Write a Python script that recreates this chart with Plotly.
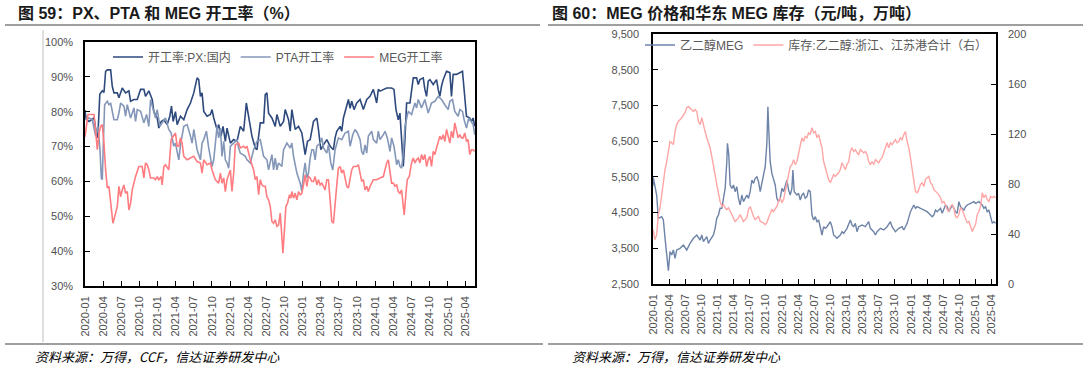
import pandas as pd
import plotly.graph_objects as go

W, H = 1088, 369

# ---------------- data (time in months after 2020-01-01) ----------------
px_points = [(0.0,80.5),(0.17,78.0),(0.66,77.2),(1.49,78.2),(1.9,73.4),(2.04,72.5),(2.2,75.5),(2.45,85.0),(2.86,86.0),(3.14,85.5),(3.41,91.6),(3.69,92.0),(4.24,92.0),(4.51,87.3),(4.79,85.4),(5.34,85.4),(5.61,84.0),(6.16,86.8),(6.71,85.4),(7.26,86.0),(7.54,83.0),(8.09,83.5),(8.64,83.5),(9.19,86.4),(9.74,86.4),(10.01,84.4),(10.56,86.0),(11.11,83.5),(11.39,80.0),(11.94,78.2),(12.21,75.3),(12.6,77.2),(13.04,77.7),(13.59,76.3),(14.03,78.7),(14.3,81.6),(14.58,77.2),(14.96,80.0),(15.24,76.3),(15.79,78.7),(16.34,77.7),(16.89,80.6),(17.44,82.5),(17.99,85.4),(18.54,89.7),(18.81,89.2),(19.09,84.4),(19.36,85.4),(19.64,80.1),(20.19,78.7),(20.74,79.2),(21.01,80.6),(21.29,78.2),(21.84,74.9),(22.11,76.3),(22.5,73.0),(22.83,75.8),(23.21,71.5),(23.49,75.3),(24.04,71.0),(24.59,72.0),(25.14,71.5),(25.69,75.8),(26.24,74.4),(26.68,82.5),(27.06,78.2),(27.61,73.0),(28.16,69.6),(28.44,69.1),(28.99,76.8),(29.54,76.8),(29.81,84.9),(30.09,85.4),(30.36,79.6),(30.91,78.2),(31.46,75.8),(31.74,79.2),(32.29,75.8),(32.84,77.2),(33.11,80.6),(33.66,77.7),(33.94,74.4),(34.21,80.6),(34.76,74.9),(35.31,75.8),(35.86,73.9),(36.41,67.7),(36.8,71.5),(37.24,72.0),(37.79,77.2),(38.34,78.2),(38.61,74.9),(39.0,69.1),(39.44,70.5),(39.99,72.0),(40.54,70.1),(41.09,69.1),(41.36,72.5),(41.64,74.4),(42.19,75.8),(42.46,74.4),(42.74,78.2),(43.29,82.0),(43.56,83.5),(43.84,81.0),(44.11,83.0),(44.5,80.6),(44.94,82.5),(45.49,83.5),(46.04,80.6),(46.59,83.5),(47.14,84.4),(47.41,85.4),(47.69,86.4),(48.24,82.5),(48.51,86.4),(48.79,85.9),(49.34,86.4),(49.89,86.8),(50.71,86.8),(51.1,86.4),(51.43,80.6),(51.81,77.7),(52.09,79.6),(52.36,70.1),(52.64,64.3),(52.91,72.0),(53.19,82.5),(53.74,82.5),(54.29,89.7),(54.84,89.7),(55.11,87.8),(55.39,89.2),(55.94,89.7),(56.21,86.4),(56.49,84.4),(56.76,88.8),(57.04,89.2),(57.59,87.8),(58.14,89.2),(58.41,86.4),(58.69,84.4),(58.96,87.3),(59.24,89.2),(59.79,91.6),(60.34,91.2),(60.61,84.4),(60.89,90.7),(61.44,90.7),(61.99,91.2),(62.43,91.6),(62.65,87.3),(63.09,78.7),(63.64,78.2),(63.91,77.2),(64.19,78.2),(64.46,75.8)]

pta_points = [(0.0,77.7),(0.66,78.2),(1.21,77.7),(1.76,73.0),(2.15,75.8),(2.48,69.1),(2.7,61.0),(2.86,60.5),(3.03,71.0),(3.25,82.0),(3.69,83.0),(3.96,82.0),(4.24,82.5),(4.51,80.1),(4.79,77.7),(5.34,77.7),(5.61,79.6),(5.89,82.5),(6.44,81.6),(6.71,78.7),(6.99,82.0),(7.54,78.2),(8.09,81.1),(8.36,77.2),(8.64,80.6),(9.19,80.1),(9.74,76.8),(10.18,79.2),(10.56,75.8),(10.84,83.5),(11.39,79.6),(11.66,78.2),(11.94,80.6),(12.38,75.8),(12.76,76.8),(13.31,78.2),(13.86,74.9),(14.25,73.9),(14.69,70.1),(14.96,71.0),(15.51,66.2),(15.79,70.5),(16.34,75.8),(16.89,76.3),(17.44,73.0),(17.71,71.0),(17.99,74.9),(18.54,69.1),(19.09,66.2),(19.36,71.0),(19.64,72.0),(20.08,74.4),(20.46,69.6),(21.01,64.3),(21.29,66.2),(21.84,75.8),(22.11,72.5),(22.39,75.3),(22.66,67.2),(22.94,71.5),(23.21,66.2),(23.49,65.3),(23.76,63.8),(24.04,70.1),(24.59,71.0),(25.14,72.0),(25.41,69.6),(25.69,68.1),(26.13,67.7),(26.51,67.2),(26.79,66.2),(27.34,65.3),(27.89,69.1),(28.44,71.5),(28.99,72.0),(29.54,67.2),(30.09,66.2),(30.36,63.3),(30.91,67.7),(31.19,63.3),(31.46,66.7),(31.74,63.3),(32.01,65.3),(32.56,64.3),(32.84,69.1),(33.39,71.0),(33.94,69.6),(34.21,71.0),(34.49,67.2),(35.04,62.4),(35.59,59.5),(35.86,57.1),(36.14,62.4),(36.41,65.3),(36.69,61.0),(36.96,62.4),(37.24,66.7),(37.51,69.1),(37.79,69.1),(38.06,66.2),(38.34,70.1),(38.89,71.0),(39.16,72.5),(39.44,69.6),(39.99,68.1),(40.26,70.5),(40.65,65.3),(40.98,63.3),(41.36,69.1),(41.64,71.0),(41.91,72.5),(42.46,72.0),(43.01,73.9),(43.56,74.4),(43.84,70.1),(44.28,73.4),(44.66,74.9),(45.05,73.9),(45.49,72.0),(45.76,68.6),(46.04,67.7),(46.31,70.5),(46.59,68.1),(46.86,73.0),(47.41,74.4),(47.69,72.0),(48.24,71.0),(48.51,74.4),(48.79,72.0),(49.34,73.4),(49.61,74.4),(50.0,72.5),(50.44,68.6),(50.71,72.5),(51.1,70.1),(51.54,64.8),(51.81,66.2),(52.09,64.3),(52.36,63.8),(52.64,68.1),(52.91,75.8),(53.46,80.1),(54.01,79.2),(54.56,82.5),(54.84,81.1),(55.11,83.5),(55.66,81.1),(56.21,83.5),(56.76,79.6),(57.31,82.5),(57.86,83.0),(58.41,84.4),(58.96,83.5),(59.51,82.0),(60.06,80.6),(60.34,83.0),(60.78,83.5),(61.16,80.1),(61.71,78.7),(61.99,80.6),(62.43,80.1),(62.7,77.7),(63.09,75.3),(63.47,78.2),(63.91,77.2),(64.19,76.3),(64.46,73.4)]

meg_points = [(0.0,72.8),(0.5,79.2),(1.49,79.2),(1.76,73.4),(2.04,69.1),(2.31,73.9),(2.59,75.8),(2.86,76.3),(3.14,71.0),(3.41,63.3),(3.69,58.1),(3.96,58.6),(4.24,53.8),(4.62,48.0),(5.06,50.9),(5.34,52.8),(5.61,58.6),(5.89,55.6),(6.16,57.6),(6.44,59.0),(6.71,56.6),(6.99,57.1),(7.26,51.8),(7.54,53.8),(7.81,57.6),(8.36,61.4),(8.91,64.3),(9.46,64.3),(9.74,61.0),(10.01,65.3),(10.29,64.8),(10.56,63.3),(10.84,61.0),(11.39,61.0),(11.66,60.5),(11.94,61.4),(12.21,60.5),(12.6,61.4),(12.76,59.0),(13.04,64.3),(13.31,64.8),(13.86,63.3),(14.25,72.0),(14.69,73.4),(14.96,73.9),(15.24,70.1),(15.51,70.1),(15.79,72.5),(16.06,71.0),(16.34,67.2),(16.89,66.2),(17.44,66.7),(17.99,67.2),(18.54,65.7),(19.09,65.3),(19.36,62.4),(19.64,66.2),(20.19,64.8),(20.74,65.3),(21.01,63.3),(21.56,60.5),(22.11,59.5),(22.39,62.4),(22.66,59.5),(22.94,61.0),(23.21,57.1),(23.49,60.5),(23.76,61.9),(24.04,63.3),(24.31,57.1),(24.59,62.4),(24.86,70.5),(25.41,71.0),(25.69,69.6),(26.24,70.1),(26.51,69.6),(26.79,70.1),(27.34,66.2),(27.89,63.3),(28.16,60.5),(28.44,61.4),(28.71,56.2),(28.99,60.5),(29.26,59.0),(29.54,58.6),(29.81,58.6),(30.09,55.6),(30.36,54.7),(30.64,52.8),(30.91,48.5),(31.19,48.0),(31.46,49.0),(31.74,47.1),(32.01,47.5),(32.29,50.9),(32.56,44.2),(32.73,39.4),(32.95,45.1),(33.22,52.8),(33.5,53.8),(33.83,56.2),(34.05,55.2),(34.21,57.1),(34.49,55.2),(34.76,56.6),(35.04,54.7),(35.31,57.1),(35.59,56.2),(35.86,56.6),(36.14,59.0),(36.41,61.9),(36.69,58.6),(36.96,61.4),(37.24,61.0),(37.51,60.0),(37.79,60.0),(38.06,61.4),(38.34,59.0),(38.61,60.5),(38.89,59.0),(39.16,59.5),(39.44,58.6),(39.71,57.6),(39.99,60.5),(40.26,60.5),(40.54,54.7),(40.81,48.5),(41.09,48.0),(41.36,54.7),(41.64,59.0),(41.91,63.8),(42.19,64.3),(42.46,62.4),(42.74,63.3),(43.01,61.0),(43.29,58.6),(43.56,58.1),(43.84,61.0),(44.11,63.3),(44.39,64.3),(44.94,64.3),(45.21,64.8),(45.49,62.4),(45.76,60.0),(46.04,60.5),(46.31,57.6),(46.59,58.6),(46.86,57.1),(47.14,58.6),(47.69,60.5),(47.96,60.5),(48.24,60.5),(48.79,61.0),(49.34,61.4),(49.61,63.3),(49.89,65.3),(50.16,66.2),(50.44,62.4),(50.71,59.5),(50.99,59.5),(51.26,58.6),(51.54,59.0),(51.81,57.1),(52.09,56.6),(52.36,57.6),(52.64,52.8),(52.8,50.4),(53.08,56.6),(53.3,60.5),(53.63,61.4),(54.01,65.3),(54.29,66.7),(54.56,65.3),(54.84,66.2),(55.11,66.7),(55.39,65.3),(55.66,67.7),(55.94,66.2),(56.21,67.7),(56.49,64.3),(56.76,66.2),(57.04,67.2),(57.31,64.3),(57.59,68.6),(57.86,67.7),(58.14,69.6),(58.41,71.0),(58.69,73.0),(58.96,72.0),(59.24,73.4),(59.51,71.5),(59.79,74.9),(60.06,73.0),(60.34,71.0),(60.61,74.4),(60.89,72.5),(61.16,76.8),(61.44,74.9),(61.71,72.5),(61.99,73.4),(62.26,72.5),(62.54,72.5),(62.81,73.9),(63.09,71.5),(63.36,72.0),(63.64,67.7),(63.91,69.1),(64.19,69.1),(64.46,68.6)]

price_points = [(0.0,5250),(0.06,5477),(0.68,4992),(0.99,4339),(1.61,4385),(1.93,4292),(2.24,3779),(2.55,3406),(2.86,2873),(3.17,3406),(3.48,3312),(3.79,3452),(4.1,3219),(4.41,3452),(5.03,3499),(5.65,3592),(5.96,3499),(6.27,3452),(6.89,3639),(7.52,3779),(8.14,3872),(8.76,3732),(9.07,3872),(9.38,3686),(10.0,3826),(10.31,3639),(10.62,3732),(11.24,3872),(11.55,4059),(11.86,4339),(12.17,4432),(12.48,4619),(12.8,4619),(13.11,4945),(13.42,5179),(13.73,5925),(13.85,6439),(14.1,6112),(14.35,5272),(14.66,5179),(14.97,5272),(15.28,5085),(15.59,5225),(15.9,4899),(16.21,4712),(16.52,4992),(16.83,4805),(17.45,4992),(17.76,4899),(18.07,5085),(18.39,5412),(18.7,5319),(19.01,5459),(19.32,5505),(19.63,5365),(19.94,5085),(20.25,5319),(20.56,5552),(20.87,5785),(21.18,6439),(21.37,7465),(21.55,6765),(21.8,5925),(22.11,5599),(22.42,5459),(22.73,5272),(23.04,4899),(23.35,4805),(23.66,4899),(23.98,5179),(24.29,5085),(24.6,5272),(24.91,5412),(25.22,5132),(25.53,4992),(25.84,5179),(26.02,5692),(26.27,5085),(26.77,4992),(27.08,5039),(27.39,4852),(27.7,4992),(28.01,5039),(28.32,4899),(28.63,4945),(28.94,5132),(29.25,5085),(29.57,4432),(29.88,4292),(30.19,4385),(30.5,4245),(30.81,4292),(31.12,4105),(31.43,3872),(31.74,4105),(32.05,4059),(32.36,4105),(32.98,4245),(33.29,4105),(33.6,3872),(34.22,3779),(34.84,3872),(35.16,3965),(35.47,3919),(36.09,4059),(36.71,4292),(37.02,4152),(37.33,4105),(37.64,4199),(37.95,3965),(38.26,4105),(38.88,4152),(39.5,4105),(40.12,4245),(40.43,4059),(41.06,3965),(41.37,3872),(41.68,3965),(42.3,4059),(42.92,4012),(43.54,4105),(44.16,4245),(44.47,4105),(45.09,3965),(45.71,4059),(46.34,4105),(46.65,4012),(47.27,4199),(47.89,4525),(48.51,4712),(48.82,4619),(49.13,4665),(49.75,4619),(50.37,4572),(50.99,4525),(51.61,4432),(51.93,4385),(52.24,4432),(52.55,4572),(52.86,4525),(53.17,4572),(53.48,4619),(53.79,4479),(54.1,4619),(54.41,4712),(54.72,4665),(55.03,4525),(55.34,4619),(55.65,4712),(55.96,4619),(56.27,4525),(56.58,4479),(56.89,4805),(57.2,4665),(57.52,4619),(57.83,4572),(58.14,4665),(58.45,4712),(59.07,4759),(59.69,4805),(60.0,4759),(60.62,4805),(61.24,4712),(61.55,4619),(61.86,4665),(62.17,4525),(62.48,4572),(62.8,4339),(63.11,4199),(63.42,4245),(63.73,4199)]

stock_points = [(0.0,43.5),(0.37,35.5),(0.68,39.5),(0.99,55.5),(1.3,60.8),(1.61,71.5),(1.93,82.0),(2.24,91.5),(2.55,98.0),(2.86,107.5),(3.17,114.0),(3.48,113.0),(3.79,111.5),(4.1,122.0),(4.41,127.5),(4.72,130.0),(5.34,133.0),(5.96,137.0),(6.27,141.0),(6.58,142.0),(7.2,139.5),(7.52,138.0),(7.83,139.5),(8.14,138.0),(8.45,130.0),(8.76,127.5),(9.07,133.0),(9.38,126.0),(9.69,122.0),(10.0,117.0),(10.31,113.0),(10.62,109.0),(10.93,102.0),(11.24,95.5),(11.55,87.5),(11.86,79.5),(12.17,71.5),(12.48,66.0),(12.8,62.0),(13.11,63.5),(13.42,61.0),(13.73,59.5),(14.04,61.0),(14.35,58.0),(14.66,55.5),(14.97,53.0),(15.28,50.0),(15.59,51.5),(15.9,53.0),(16.21,55.5),(16.52,53.0),(16.83,50.0),(17.45,53.0),(17.76,59.5),(18.07,62.0),(18.39,57.0),(18.7,54.0),(19.01,51.5),(19.32,53.0),(19.63,54.0),(19.94,50.0),(20.56,49.0),(20.87,47.5),(21.18,49.0),(21.49,53.0),(21.8,57.0),(22.11,59.5),(22.42,58.0),(23.04,62.0),(23.35,66.0),(23.66,69.0),(23.98,65.0),(24.29,67.5),(24.6,74.0),(24.91,79.5),(25.22,87.5),(25.53,94.0),(25.84,95.5),(26.15,99.5),(26.46,95.5),(26.77,98.0),(27.08,105.0),(27.39,111.5),(27.7,117.0),(28.01,114.0),(28.32,118.0),(28.63,117.0),(28.94,121.0),(29.25,119.5),(29.57,125.0),(29.88,121.0),(30.19,122.0),(30.5,117.0),(30.81,119.5),(31.12,114.0),(31.43,109.0),(31.74,98.0),(32.05,93.0),(32.36,87.5),(32.67,83.5),(32.98,81.0),(33.29,85.0),(33.6,87.5),(33.91,86.0),(34.22,87.5),(34.53,89.0),(34.84,91.5),(35.16,97.0),(35.47,94.0),(35.78,91.5),(36.09,95.5),(36.4,98.0),(36.71,106.0),(37.02,109.0),(37.33,106.0),(37.64,107.5),(37.95,105.0),(38.26,103.5),(38.57,107.5),(39.19,105.0),(39.5,106.0),(39.81,103.5),(40.12,98.0),(40.43,95.5),(40.75,98.0),(41.06,95.5),(41.37,99.5),(41.68,98.0),(41.99,97.0),(42.3,99.5),(42.61,101.0),(42.92,105.0),(43.23,110.0),(43.54,113.0),(43.85,109.0),(44.16,113.0),(44.47,111.5),(44.78,114.0),(45.09,115.5),(45.4,113.0),(45.71,114.0),(46.02,117.0),(46.34,115.5),(46.65,119.5),(46.96,122.0),(47.27,114.0),(47.58,109.0),(47.89,101.0),(48.2,93.0),(48.51,82.0),(48.82,74.0),(49.13,73.0),(49.44,75.5),(49.75,79.5),(50.06,81.0),(50.37,78.0),(50.68,83.5),(50.99,85.0),(51.3,86.0),(51.61,81.0),(51.93,79.5),(52.24,75.5),(52.55,74.0),(52.86,73.0),(53.17,71.5),(53.48,69.0),(53.79,65.0),(54.1,66.0),(54.41,63.5),(54.72,59.5),(55.03,58.0),(55.34,62.0),(55.65,63.5),(55.96,61.0),(56.27,54.0),(56.58,53.0),(56.89,55.5),(57.2,61.0),(57.52,59.5),(57.83,55.5),(58.14,51.5),(58.45,49.0),(58.76,50.0),(59.07,46.0),(59.38,42.0),(59.69,45.0),(60.0,47.5),(60.31,55.5),(60.62,58.0),(60.93,62.0),(61.24,73.0),(61.55,69.0),(61.86,71.5),(62.17,67.5),(62.48,66.0),(62.8,70.0),(63.11,69.0),(63.42,70.0),(63.73,69.0)]

left_names = ["开工率:PX:国内", "PTA开工率", "MEG开工率"]
right_names = ["乙二醇MEG", "库存:乙二醇:浙江、江苏港合计（右）"]
left_yticks = [30, 40, 50, 60, 70, 80, 90, 100]
left_yticklabels = ["30%", "40%", "50%", "60%", "70%", "80%", "90%", "100%"]
right_yticks = [2500, 3500, 4500, 5500, 6500, 7500, 8500, 9500]
right_yticklabels = ["2,500", "3,500", "4,500", "5,500", "6,500", "7,500", "8,500", "9,500"]
right_y2ticks = [0, 40, 80, 120, 160, 200]

# ---------------- helpers ----------------
BASE = pd.Timestamp("2020-01-01")

def split(points):
    ms = [p[0] for p in points]
    vs = [p[1] for p in points]
    dates = [BASE + pd.Timedelta(days=m * 30.4375) for m in ms]
    return dates, vs

def mdate(m):
    return BASE + pd.Timedelta(days=m * 30.4375)

def fx(x):
    return x / W

def fy(y):
    return 1 - y / H

TICKFONT = dict(family="Liberation Sans, Arial, sans-serif", size=11, color="#505050")
LEGFONT = dict(family="Liberation Sans, Noto Sans CJK SC, sans-serif", size=12, color="#595959")

fig = go.Figure()

colors_left = ["#2E4A7D", "#8497B8", "#FF7C80"]
for pts, name, col in zip([px_points, pta_points, meg_points], left_names, colors_left):
    d, v = split(pts)
    fig.add_trace(go.Scatter(x=d, y=v, name=name, mode="lines",
                             line=dict(color=col, width=1.6),
                             xaxis="x", yaxis="y", legend="legend"))

d, v = split(price_points)
fig.add_trace(go.Scatter(x=d, y=v, name=right_names[0], mode="lines",
                         line=dict(color="#6E83A8", width=1.4),
                         xaxis="x2", yaxis="y2", legend="legend2"))
d, v = split(stock_points)
fig.add_trace(go.Scatter(x=d, y=v, name=right_names[1], mode="lines",
                         line=dict(color="#FFA6A6", width=1.4),
                         xaxis="x2", yaxis="y3", legend="legend2"))

axis_common = dict(showgrid=False, zeroline=False, showline=True, linecolor="#000000",
                   linewidth=1.5, ticks="inside", ticklen=5, tickcolor="#000000",
                   tickwidth=1, tickfont=TICKFONT)

xcommon = dict(axis_common, type="date", dtick="M3", tick0="2020-01-01",
               tickformat="%Y-%m", tickangle=-90, mirror=True, ticklabelstandoff=4)

fig.update_layout(
    width=W, height=H,
    margin=dict(l=0, r=0, t=0, b=0, autoexpand=False),
    paper_bgcolor="white", plot_bgcolor="white",
    xaxis=dict(xcommon, domain=[fx(85), fx(475)], anchor="y",
               range=[mdate(0), mdate(64.5)]),
    yaxis=dict(axis_common, domain=[fy(286), fy(42)], anchor="x", range=[30, 100],
               tickvals=left_yticks, ticktext=left_yticklabels, mirror=True,
               ticklabelstandoff=8),
    xaxis2=dict(xcommon, domain=[fx(653), fx(996)], anchor="y2",
                range=[mdate(0), mdate(63.8)]),
    yaxis2=dict(axis_common, domain=[fy(284), fy(34)], anchor="x2", range=[2500, 9500],
                tickvals=right_yticks, ticktext=right_yticklabels, ticklabelstandoff=10),
    yaxis3=dict(axis_common, overlaying="y2", side="right", anchor="x2", range=[0, 200],
                tickvals=right_y2ticks, ticklabelstandoff=8),
    legend=dict(orientation="h", x=fx(108), y=fy(57), xanchor="left", yanchor="middle",
                bgcolor="rgba(0,0,0,0)", font=LEGFONT, itemwidth=30, tracegroupgap=0),
    legend2=dict(orientation="h", x=fx(640), y=fy(45), xanchor="left", yanchor="middle",
                 bgcolor="rgba(0,0,0,0)", font=LEGFONT, itemwidth=30),
    showlegend=True,
)

# titles
TITLEFONT = dict(family="Liberation Sans, Noto Sans CJK SC, sans-serif", size=16, color="#1A1A1A")
fig.add_annotation(text="<b>图 59：PX、PTA 和 MEG 开工率（%）</b>", x=fx(16), y=fy(13),
                   xref="paper", yref="paper", xanchor="left", yanchor="middle",
                   showarrow=False, font=TITLEFONT)
fig.add_annotation(text="<b>图 60：MEG 价格和华东 MEG 库存（元/吨，万吨）</b>", x=fx(550), y=fy(13),
                   xref="paper", yref="paper", xanchor="left", yanchor="middle",
                   showarrow=False, font=TITLEFONT)

SRCFONT = dict(family="Noto Sans CJK SC, sans-serif", size=13, color="#000000")
fig.add_annotation(text="<i>资料来源：万得，CCF，信达证券研发中心</i>", x=fx(33), y=fy(356),
                   xref="paper", yref="paper", xanchor="left", yanchor="middle",
                   showarrow=False, font=SRCFONT)
fig.add_annotation(text="<i>资料来源：万得，信达证券研发中心</i>", x=fx(570), y=fy(356),
                   xref="paper", yref="paper", xanchor="left", yanchor="middle",
                   showarrow=False, font=SRCFONT)

# frame lines
for x0, x1, y in [(5, 540, 25), (548, 1083, 25), (5, 543, 344), (548, 1083, 344)]:
    fig.add_shape(type="line", xref="paper", yref="paper", x0=fx(x0), x1=fx(x1),
                  y0=fy(y), y1=fy(y), line=dict(color="#7F7F7F", width=1.5))
fig.add_shape(type="line", xref="paper", yref="paper", x0=fx(43), x1=fx(43),
              y0=fy(30), y1=fy(342), line=dict(color="#BFBFBF", width=1))

fig.write_html(
    "out.html",
    config={"displayModeBar": False},
    post_script="document.body.style.margin='0';document.body.style.padding='0';"
                "document.documentElement.style.overflow='hidden';",
)
